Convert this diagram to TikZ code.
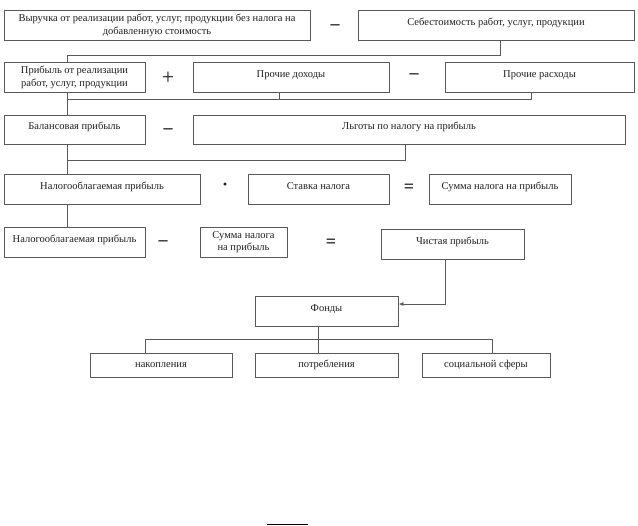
\documentclass[tikz,border=0pt]{standalone}
\usepackage{fontspec}
\setmainfont{Liberation Serif}
\usetikzlibrary{arrows.meta}
\definecolor{linegray}{gray}{0.35}
\definecolor{textcol}{gray}{0.12}
\begin{document}
\begin{tikzpicture}[x=1pt,y=-1pt,
  box/.style={draw=linegray,line width=0.9pt,rectangle,inner sep=0pt,align=center,
    font=\fontsize{10.5}{13}\selectfont,text=textcol,minimum height=30pt},
  oneline/.style={text height=7pt,text depth=6pt},
  conn/.style={draw=linegray,line width=0.9pt},
  op/.style={font=\fontsize{18}{18}\selectfont\bfseries,text=textcol,inner sep=0pt},
  bigop/.style={op,font=\fontsize{22}{22}\selectfont}
]
\useasboundingbox (0,0) rectangle (638,526);
% row 1
\node[box,minimum width=306pt] (A) at (157,25) {Выручка от реализации работ, услуг, продукции без налога на\\добавленную стоимость};
\node[op] (opA) at (335,27) {–};
\node[box,oneline,minimum width=276pt] (B) at (496,25) {Себестоимость работ, услуг, продукции};
% row 2
\node[box,minimum width=141pt] (C) at (74.5,77) {Прибыль от реализации\\работ, услуг, продукции};
\node[bigop] (opC) at (168,78) {+};
\node[box,oneline,minimum width=196pt] (D) at (291,77) {Прочие доходы};
\node[op] (opD) at (414,76) {–};
\node[box,oneline,minimum width=189pt] (E) at (539.5,77) {Прочие расходы};
% row 3
\node[box,oneline,minimum width=141pt,minimum height=29pt] (F) at (74.5,129.5) {Балансовая прибыль};
\node[op] (opF) at (168,131) {–};
\node[box,oneline,minimum width=432pt,minimum height=29pt] (G) at (409,129.5) {Льготы по налогу на прибыль};
% row 4
\node[box,oneline,minimum width=196pt] (H) at (102,189) {Налогооблагаемая прибыль};
\node[op] (opH) at (225,187) {·};
\node[box,oneline,minimum width=141pt] (I) at (318.5,189) {Ставка налога};
\node[op] (opI) at (409,188) {=};
\node[box,oneline,minimum width=142pt] (J) at (500,189) {Сумма налога на прибыль};
% row 5
\node[box,oneline,minimum width=141pt] (K) at (74.5,242) {Налогооблагаемая прибыль};
\node[op] (opK) at (163,243) {–};
\node[box,minimum width=87pt,font=\fontsize{10.5}{11.5}\selectfont] (L) at (243.5,242) {Сумма налога\\на прибыль};
\node[op] (opL) at (331,243) {=};
\node[box,oneline,minimum width=143pt] (M) at (452.5,244) {Чистая прибыль};
% funds
\node[box,oneline,minimum width=143pt] (N) at (326.5,311) {Фонды};
\node[box,minimum width=142pt,minimum height=24pt] (O) at (161,365) {накопления};
\node[box,minimum width=143pt,minimum height=24pt] (P) at (326.5,365) {потребления};
\node[box,minimum width=128pt,minimum height=24pt] (Q) at (486,365) {социальной сферы};
% junctions
\coordinate (j1) at (500,55);
\coordinate (j2) at (67,55);
\coordinate (j3) at (279,99);
\coordinate (j4) at (531,99);
\coordinate (j5) at (67,99);
\coordinate (j6) at (405,160);
\coordinate (j7) at (67,160);
\coordinate (j8) at (445,304);
\coordinate (j9) at (318,339);
\coordinate (j10) at (145,339);
\coordinate (j11) at (492,339);
% connectors
\draw[conn] (B.south -| j1) -- (j1) -- (j2) -- (C.north -| j2);
\draw[conn] (D.south -| j3) -- (j3);
\draw[conn] (E.south -| j4) -- (j4) -- (j5);
\draw[conn] (C.south -| j5) -- (F.north -| j5);
\draw[conn] (G.south -| j6) -- (j6) -- (j7);
\draw[conn] (F.south -| j7) -- (H.north -| j7);
\draw[conn] (H.south -| j7) -- (K.north -| j7);
\draw[conn,-{Latex[length=5pt,width=4pt]}] (M.south -| j8) -- (j8) -- (N.east |- j8);
\draw[conn] (N.south -| j9) -- (P.north -| j9);
\draw[conn] (O.north -| j10) -- (j10) -- (j11) -- (Q.north -| j11);
% footnote rule
\draw[black,line width=1.5pt] (267,524.5) -- (308,524.5);
\end{tikzpicture}
\end{document}
